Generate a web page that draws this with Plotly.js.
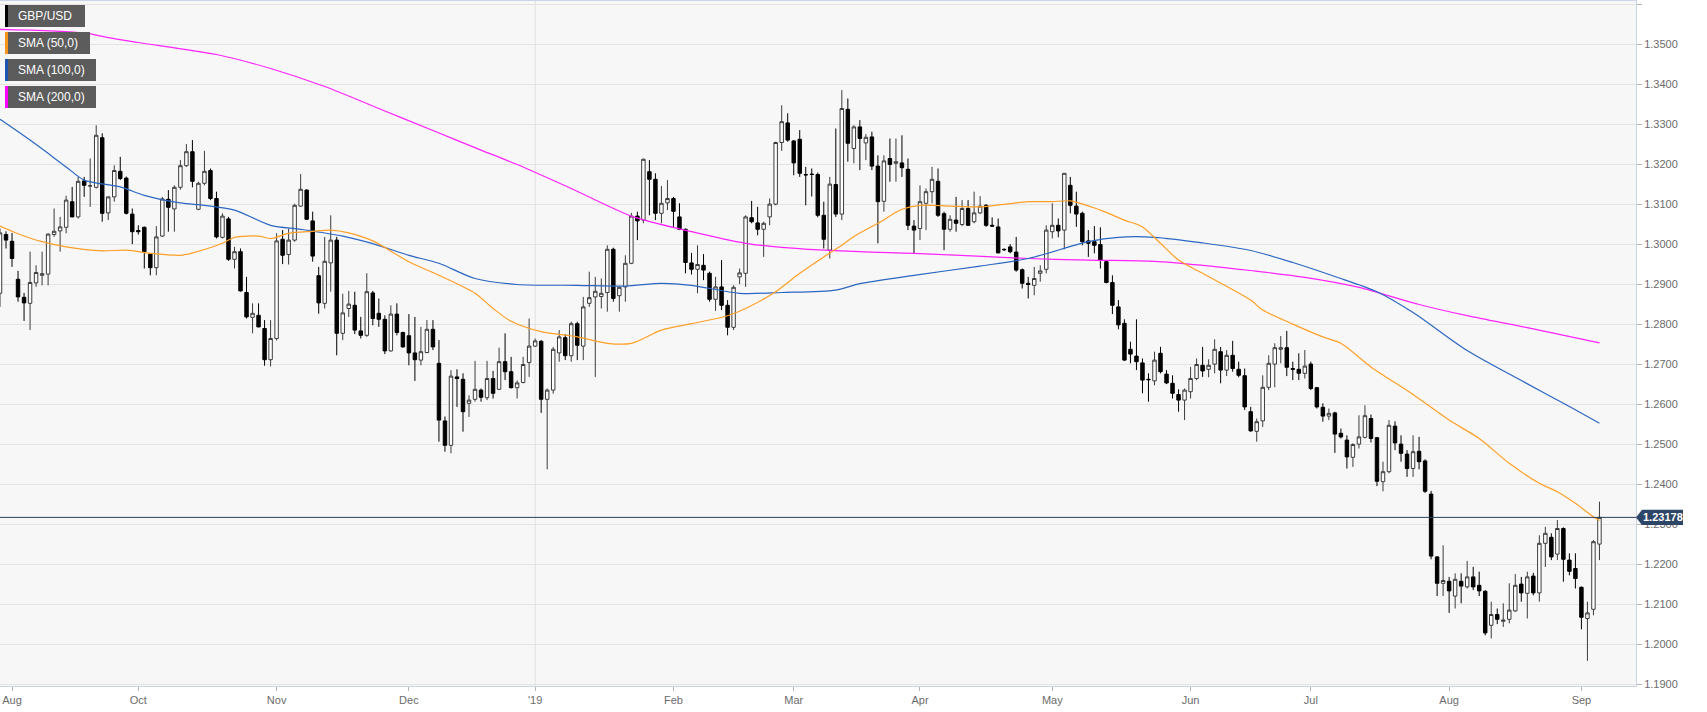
<!DOCTYPE html>
<html>
<head>
<meta charset="utf-8">
<script src="https://cdn.plot.ly/plotly-3.0.1.min.js"></script>
<style>
html,body{margin:0;padding:0;background:#ffffff;}
#chart{width:1707px;height:712px;}
</style>
</head>
<body>
<div id="chart"></div>
<script>
// ---------- DATA (GBP/USD daily, weekday sessions) ----------
const firstSession = '2018-08-29';

const open = [
1.2878,1.3025,1.3008,1.2913,1.2868,1.2853,1.2904,1.2923,1.2926,1.3025,
1.3034,1.3043,1.3107,1.3069,1.3159,1.3146,1.3143,1.3267,1.3079,1.3119,
1.3183,1.3166,1.3076,1.3035,1.3043,1.2976,1.2942,1.3021,1.3113,1.3089,
1.3143,1.3197,1.3232,1.3088,1.3153,1.3185,1.3115,1.3018,1.3064,1.2963,
1.2982,1.2880,1.2818,1.2823,1.2790,1.2712,1.2765,1.3013,1.2975,1.3011,
1.3096,1.3136,1.3059,1.2922,1.2853,1.2954,1.3011,1.2778,1.2840,1.2848,
1.2784,1.2773,1.2879,1.2828,1.2813,1.2734,1.2826,1.2780,1.2772,1.2729,
1.2711,1.2730,1.2788,1.2703,1.2559,1.2498,1.2669,1.2663,1.2603,1.2613,
1.2636,1.2617,1.2665,1.2638,1.2707,1.2682,1.2642,1.2655,1.2705,1.2746,
1.2758,1.2613,1.2636,1.2729,1.2767,1.2722,1.2802,1.2746,1.2853,1.2869,
1.2870,1.2880,1.2988,1.2872,1.2894,1.2953,1.3071,1.3061,1.3182,1.3163,
1.3078,1.3104,1.3115,1.3069,1.3038,1.2954,1.2938,1.2948,1.2928,1.2863,
1.2894,1.2848,1.2793,1.2919,1.2928,1.3067,1.3054,1.3038,1.3069,1.3101,
1.3255,1.3304,1.3259,1.3263,1.3175,1.3176,1.3175,1.3073,1.2986,1.3150,
1.3076,1.3338,1.3240,1.3294,1.3254,1.3269,1.3196,1.3108,1.3215,1.3203,
1.3204,1.3188,1.3046,1.3040,1.3103,1.3132,1.3158,1.3077,1.3038,1.3061,
1.3050,1.3090,1.3057,1.3079,1.3098,1.3048,1.3044,1.2988,1.2994,1.2981,
1.2937,1.2903,1.2898,1.2928,1.2938,1.3032,1.3048,1.3036,1.3148,1.3096,
1.3078,1.3009,1.3007,1.3000,1.2957,1.2905,1.2844,1.2803,1.2738,1.2721,
1.2704,1.2663,1.2659,1.2728,1.2676,1.2653,1.2625,1.2611,1.2632,1.2665,
1.2698,1.2688,1.2701,1.2732,1.2686,1.2723,1.2688,1.2672,1.2582,1.2533,
1.2559,1.2643,1.2701,1.2738,1.2742,1.2690,1.2688,1.2678,1.2701,1.2642,
1.2593,1.2571,1.2579,1.2528,1.2511,1.2468,1.2501,1.2518,1.2565,1.2517,
1.2407,1.2432,1.2546,1.2501,1.2476,1.2440,1.2483,1.2459,1.2376,1.2219,
1.2153,1.2158,1.2121,1.2158,1.2144,1.2169,1.2148,1.2133,1.2048,1.2075,
1.2058,1.2063,1.2084,1.2151,1.2128,1.2171,1.2129,1.2253,1.2268,1.2226,
1.2290,1.2211,1.2190,1.2143,1.2065,1.2088,1.2251
];

const high = [
1.3040,1.3033,1.3029,1.2934,1.2879,1.2982,1.2948,1.2982,1.3028,1.3090,
1.3069,1.3122,1.3144,1.3169,1.3169,1.3215,1.3298,1.3278,1.3120,1.3198,
1.3219,1.3170,1.3090,1.3048,1.3045,1.2977,1.3046,1.3119,1.3136,1.3148,
1.3211,1.3251,1.3261,1.3157,1.3234,1.3190,1.3132,1.3078,1.3069,1.2994,
1.2990,1.2919,1.2853,1.2853,1.2811,1.2811,1.3028,1.3036,1.3040,1.3102,
1.3176,1.3138,1.3082,1.2944,1.3019,1.3073,1.3019,1.2877,1.2884,1.2882,
1.2819,1.2928,1.2884,1.2865,1.2823,1.2848,1.2853,1.2782,1.2826,1.2819,
1.2794,1.2811,1.2811,1.2761,1.2570,1.2686,1.2688,1.2678,1.2623,1.2709,
1.2640,1.2709,1.2684,1.2742,1.2778,1.2719,1.2660,1.2719,1.2815,1.2765,
1.2761,1.2640,1.2744,1.2786,1.2776,1.2807,1.2807,1.2869,1.2932,1.2919,
1.2915,1.2998,1.2992,1.2895,1.2973,1.3079,1.3082,1.3215,1.3211,1.3178,
1.3146,1.3161,1.3119,1.3103,1.3040,1.2979,1.2998,1.2976,1.2932,1.2919,
1.2961,1.2861,1.2898,1.2940,1.3073,1.3109,1.3094,1.3057,1.3115,1.3257,
1.3348,1.3328,1.3261,1.3286,1.3194,1.3190,1.3180,1.3107,1.3169,1.3290,
1.3386,1.3365,1.3298,1.3311,1.3276,1.3282,1.3223,1.3223,1.3265,1.3265,
1.3273,1.3215,1.3061,1.3148,1.3140,1.3194,1.3190,1.3082,1.3073,1.3119,
1.3111,1.3111,1.3132,1.3121,1.3101,1.3068,1.3065,1.2990,1.3001,1.3019,
1.2940,1.2919,1.2944,1.2948,1.3048,1.3103,1.3065,1.3178,1.3169,1.3132,
1.3082,1.3036,1.3046,1.3043,1.2960,1.2923,1.2861,1.2813,1.2757,1.2813,
1.2715,1.2678,1.2732,1.2744,1.2686,1.2673,1.2638,1.2640,1.2694,1.2715,
1.2744,1.2713,1.2763,1.2744,1.2736,1.2759,1.2707,1.2690,1.2594,1.2565,
1.2673,1.2723,1.2753,1.2771,1.2784,1.2707,1.2728,1.2736,1.2707,1.2644,
1.2603,1.2590,1.2582,1.2540,1.2523,1.2503,1.2573,1.2598,1.2575,1.2519,
1.2457,1.2561,1.2558,1.2523,1.2486,1.2523,1.2519,1.2463,1.2384,1.2221,
1.2248,1.2169,1.2178,1.2178,1.2209,1.2194,1.2182,1.2136,1.2107,1.2090,
1.2103,1.2153,1.2176,1.2169,1.2182,1.2179,1.2273,1.2294,1.2278,1.2311,
1.2293,1.2228,1.2228,1.2145,1.2107,1.2261,1.2357
];

const low = [
1.2844,1.2990,1.2944,1.2857,1.2809,1.2786,1.2894,1.2898,1.2898,1.3019,
1.2982,1.3028,1.3068,1.3065,1.3119,1.3094,1.3140,1.3057,1.3061,1.3107,
1.3161,1.3075,1.3001,1.3025,1.2940,1.2923,1.2923,1.3019,1.3032,1.3032,
1.3137,1.3194,1.3143,1.3086,1.3148,1.3111,1.3015,1.3015,1.2959,1.2940,
1.2882,1.2815,1.2778,1.2793,1.2697,1.2695,1.2760,1.2951,1.2950,1.3007,
1.3094,1.3061,1.2957,1.2827,1.2840,1.2882,1.2723,1.2761,1.2819,1.2776,
1.2765,1.2769,1.2798,1.2794,1.2726,1.2732,1.2773,1.2742,1.2698,1.2659,
1.2698,1.2728,1.2736,1.2507,1.2482,1.2478,1.2594,1.2532,1.2569,1.2607,
1.2607,1.2611,1.2615,1.2636,1.2661,1.2640,1.2615,1.2653,1.2669,1.2744,
1.2579,1.2438,1.2627,1.2707,1.2711,1.2707,1.2711,1.2711,1.2844,1.2669,
1.2840,1.2832,1.2857,1.2832,1.2857,1.2951,1.3011,1.3053,1.3073,1.3061,
1.3053,1.3086,1.3044,1.3036,1.2928,1.2925,1.2878,1.2911,1.2857,1.2834,
1.2836,1.2773,1.2786,1.2901,1.2894,1.3053,1.3023,1.2969,1.3048,1.3098,
1.3234,1.3257,1.3173,1.3169,1.3098,1.3120,1.3068,1.2990,1.2965,1.3069,
1.3061,1.3207,1.3203,1.3186,1.3211,1.3186,1.3003,1.3082,1.3157,1.3157,
1.3169,1.3036,1.2979,1.3011,1.3036,1.3103,1.3069,1.2986,1.3032,1.3032,
1.3046,1.3046,1.3053,1.3076,1.3044,1.3044,1.2978,1.2984,1.2978,1.2932,
1.2890,1.2865,1.2873,1.2907,1.2928,1.3015,1.3018,1.2988,1.3078,1.3044,
1.2998,1.2969,1.2978,1.2940,1.2903,1.2826,1.2788,1.2709,1.2703,1.2686,
1.2628,1.2607,1.2648,1.2678,1.2651,1.2615,1.2582,1.2561,1.2615,1.2661,
1.2669,1.2668,1.2678,1.2653,1.2671,1.2682,1.2668,1.2586,1.2532,1.2507,
1.2544,1.2636,1.2643,1.2703,1.2671,1.2661,1.2661,1.2665,1.2636,1.2590,
1.2557,1.2561,1.2479,1.2515,1.2440,1.2444,1.2490,1.2515,1.2505,1.2396,
1.2383,1.2428,1.2486,1.2457,1.2419,1.2419,1.2438,1.2379,1.2213,1.2121,
1.2121,1.2079,1.2090,1.2103,1.2140,1.2136,1.2121,1.2023,1.2015,1.2051,
1.2044,1.2053,1.2082,1.2107,1.2065,1.2123,1.2107,1.2194,1.2211,1.2211,
1.2157,1.2173,1.2140,1.2038,1.1959,1.2073,1.2211
];

const close = [
1.3029,1.3011,1.2965,1.2869,1.2854,1.2905,1.2930,1.2927,1.3026,1.3033,
1.3044,1.3111,1.3069,1.3158,1.3148,1.3147,1.3273,1.3078,1.3119,1.3185,
1.3165,1.3078,1.3032,1.3032,1.2982,1.2942,1.3019,1.3114,1.3093,1.3143,
1.3197,1.3232,1.3158,1.3153,1.3183,1.3115,1.3019,1.3071,1.2963,1.2982,
1.2884,1.2819,1.2828,1.2794,1.2712,1.2765,1.3009,1.2973,1.3011,1.3098,
1.3138,1.3063,1.2971,1.2854,1.2958,1.3011,1.2778,1.2829,1.2851,1.2786,
1.2773,1.2882,1.2815,1.2813,1.2734,1.2826,1.2780,1.2744,1.2729,1.2712,
1.2732,1.2788,1.2744,1.2561,1.2498,1.2671,1.2665,1.2582,1.2611,1.2638,
1.2618,1.2665,1.2628,1.2707,1.2682,1.2642,1.2654,1.2700,1.2746,1.2759,
1.2613,1.2636,1.2738,1.2769,1.2722,1.2802,1.2748,1.2844,1.2867,1.2883,
1.2878,1.2988,1.2865,1.2893,1.2953,1.3071,1.3059,1.3213,1.3163,1.3078,
1.3103,1.3115,1.3083,1.3038,1.2955,1.2938,1.2950,1.2936,1.2863,1.2894,
1.2848,1.2793,1.2893,1.2929,1.3069,1.3057,1.3038,1.3053,1.3101,1.3255,
1.3307,1.3261,1.3204,1.3178,1.3174,1.3175,1.3073,1.3013,1.3151,1.3076,
1.3340,1.3253,1.3294,1.3265,1.3268,1.3196,1.3107,1.3209,1.3200,1.3207,
1.3192,1.3048,1.3036,1.3107,1.3132,1.3163,1.3073,1.3038,1.3063,1.3053,
1.3090,1.3048,1.3079,1.3096,1.3048,1.3046,1.2979,1.2987,1.2982,1.2936,
1.2903,1.2900,1.2915,1.2934,1.3036,1.3048,1.3034,1.3178,1.3098,1.3076,
1.3007,1.3003,1.2998,1.2961,1.2905,1.2848,1.2799,1.2711,1.2726,1.2707,
1.2661,1.2662,1.2711,1.2682,1.2654,1.2628,1.2611,1.2636,1.2665,1.2700,
1.2684,1.2698,1.2738,1.2686,1.2723,1.2690,1.2673,1.2594,1.2534,1.2557,
1.2643,1.2703,1.2742,1.2742,1.2693,1.2688,1.2678,1.2696,1.2640,1.2594,
1.2571,1.2578,1.2526,1.2519,1.2469,1.2500,1.2519,1.2572,1.2515,1.2408,
1.2432,1.2548,1.2504,1.2478,1.2440,1.2482,1.2457,1.2383,1.2221,1.2153,
1.2160,1.2134,1.2163,1.2146,1.2169,1.2144,1.2134,1.2029,1.2075,1.2063,
1.2061,1.2086,1.2148,1.2129,1.2169,1.2129,1.2253,1.2278,1.2219,1.2290,
1.2213,1.2183,1.2165,1.2068,1.2079,1.2257,1.23178
];

const sma50Dates = ['2018-08-29','2018-09-03','2018-09-07','2018-09-13','2018-09-21','2018-09-27','2018-10-03','2018-10-10','2018-10-12','2018-10-19','2018-10-23','2018-10-29','2018-10-31','2018-11-05','2018-11-09','2018-11-14','2018-11-19','2018-11-23','2018-12-03','2018-12-10','2018-12-18','2018-12-21','2018-12-26','2019-01-02','2019-01-10','2019-01-17','2019-01-23','2019-01-30','2019-02-06','2019-02-14','2019-02-19','2019-02-26','2019-03-04','2019-03-08','2019-03-13','2019-03-15','2019-03-21','2019-03-27','2019-04-01','2019-04-08','2019-04-15','2019-04-25','2019-05-01','2019-05-06','2019-05-13','2019-05-17','2019-05-22','2019-05-27','2019-05-30','2019-06-05','2019-06-17','2019-06-19','2019-06-26','2019-07-03','2019-07-08','2019-07-15','2019-07-24','2019-08-01','2019-08-08','2019-08-15','2019-08-22','2019-08-27','2019-08-30','2019-09-04','2019-09-05'];
const sma50Values = [1.3046,1.3027,1.3007,1.2994,1.2984,1.2986,1.2978,1.2973,1.2979,1.3003,1.3018,1.3021,1.3015,1.3028,1.3033,1.3036,1.3029,1.3009,1.2957,1.2923,1.2878,1.2840,1.2808,1.2782,1.2769,1.2753,1.2753,1.2786,1.2802,1.2822,1.2840,1.2882,1.2928,1.2969,1.2998,1.3020,1.3053,1.3088,1.3098,1.3096,1.3094,1.3107,1.3107,1.3109,1.3086,1.3061,1.3044,1.3003,1.2961,1.2928,1.2861,1.2836,1.2801,1.2769,1.2753,1.2694,1.2625,1.2561,1.2515,1.2453,1.2403,1.2382,1.2353,1.2319,1.2310];

const sma100Dates = ['2018-08-29','2018-09-05','2018-09-13','2018-09-18','2018-09-26','2018-10-02','2018-10-10','2018-10-16','2018-10-23','2018-10-31','2018-11-07','2018-11-16','2018-11-23','2018-12-03','2018-12-10','2018-12-18','2018-12-27','2019-01-10','2019-01-22','2019-01-30','2019-02-06','2019-02-18','2019-02-27','2019-03-12','2019-03-18','2019-03-29','2019-04-15','2019-04-25','2019-05-09','2019-05-16','2019-05-24','2019-06-05','2019-06-17','2019-06-26','2019-07-05','2019-07-16','2019-07-24','2019-08-06','2019-08-19','2019-08-29','2019-09-05'];
const sma100Values = [1.3313,1.3261,1.3194,1.3161,1.3144,1.3123,1.3104,1.3098,1.3086,1.3048,1.3038,1.3021,1.3002,1.2973,1.2953,1.2915,1.2900,1.2898,1.2896,1.2903,1.2898,1.2878,1.2880,1.2886,1.2902,1.2923,1.2946,1.2965,1.3007,1.3018,1.3018,1.3004,1.2985,1.2955,1.2920,1.2882,1.2830,1.2735,1.2660,1.2595,1.2553];

const sma200Dates = ['2018-08-29','2018-09-18','2018-09-24','2018-10-01','2018-10-18','2018-10-31','2018-11-13','2018-11-26','2018-12-07','2018-12-19','2018-12-27','2019-01-09','2019-01-23','2019-02-06','2019-02-19','2019-02-27','2019-03-18','2019-03-29','2019-04-25','2019-05-09','2019-05-24','2019-06-05','2019-06-17','2019-06-28','2019-07-11','2019-07-25','2019-08-06','2019-08-20','2019-09-05'];
const sma200Values = [1.3538,1.3529,1.3517,1.3505,1.3475,1.3440,1.3395,1.3340,1.3285,1.3236,1.3200,1.3140,1.3071,1.3032,1.3003,1.2993,1.2982,1.2978,1.2965,1.2961,1.2958,1.2948,1.2935,1.2918,1.2893,1.2850,1.2822,1.2792,1.2754];

const lastPrice = 1.23178;
const tickDates = ['2018-08-31','2018-10-01','2018-11-01','2018-12-03','2019-01-01','2019-02-01','2019-03-01','2019-04-01','2019-05-01','2019-06-03','2019-07-01','2019-08-01','2019-09-02'];
const tickLabels = ['Aug','Oct','Nov','Dec',"'19",'Feb','Mar','Apr','May','Jun','Jul','Aug','Sep'];
const legendNames = ['GBP/USD','SMA (50,0)','SMA (100,0)','SMA (200,0)'];
const legendColors = ['#000000','#f7941d','#1c55b0','#ff00ff'];

// ---------- helpers ----------
function sessions(start, n){
  const out = []; const d = new Date(start + 'T00:00:00Z');
  while(out.length < n){
    const wd = d.getUTCDay();
    if(wd !== 0 && wd !== 6) out.push(d.toISOString().slice(0,10));
    d.setUTCDate(d.getUTCDate() + 1);
  }
  return out;
}
const dates = sessions(firstSession, close.length);

const W = 1707, H = 712;
const M = {l:0, r:71, t:1, b:26};
const PW = W - M.l - M.r, PH = H - M.t - M.b;
const px = x => (x - M.l) / PW;
const py = y => 1 - (y - M.t) / PH;
const FONT = 'Liberation Sans, Arial, Helvetica, sans-serif';

const traces = [
  {
    type:'candlestick', x:dates, open:open, high:high, low:low, close:close,
    increasing:{line:{color:'#3c3c3c', width:1}, fillcolor:'#ffffff'},
    decreasing:{line:{color:'#000000', width:1}, fillcolor:'#000000'},
    whiskerwidth:0, hoverinfo:'skip', showlegend:false
  },
  {type:'scatter', mode:'lines', x:sma200Dates, y:sma200Values, line:{color:'#ff22ff', width:1.2, shape:'spline', smoothing:0.8}, hoverinfo:'skip', showlegend:false},
  {type:'scatter', mode:'lines', x:sma100Dates, y:sma100Values, line:{color:'#2a66c2', width:1.2, shape:'spline', smoothing:0.8}, hoverinfo:'skip', showlegend:false},
  {type:'scatter', mode:'lines', x:sma50Dates, y:sma50Values, line:{color:'#ff9f26', width:1.2, shape:'spline', smoothing:0.8}, hoverinfo:'skip', showlegend:false}
];

const shapes = [];
const annotations = [];

// vertical year gridline
shapes.push({type:'line', xref:'x', yref:'paper', x0:'2019-01-01', x1:'2019-01-01', y0:0, y1:1, line:{color:'#e1e1e1', width:1}, layer:'below'});
// last price line
shapes.push({type:'line', xref:'paper', yref:'y', x0:0, x1:1, y0:lastPrice, y1:lastPrice, line:{color:'#2c3e57', width:1}, layer:'above'});
// last price tag
const tagTop = lastPrice + 0.0019, tagBot = lastPrice - 0.0019;
shapes.push({type:'path', xref:'paper', yref:'y', layer:'above',
  path:`M ${px(1636)},${lastPrice} L ${px(1642)},${tagTop} L ${px(1683)},${tagTop} L ${px(1683)},${tagBot} L ${px(1642)},${tagBot} Z`,
  fillcolor:'#2d4566', line:{width:0}});
annotations.push({xref:'paper', yref:'y', x:px(1662.5), y:lastPrice, text:'<b>'+lastPrice.toFixed(5)+'</b>', showarrow:false,
  xanchor:'center', yanchor:'middle', font:{family:FONT, size:11, color:'#ffffff'}});

// legend boxes
const boxRight = [85, 90, 96, 96];
legendNames.forEach((name, i) => {
  const top = 5 + i*27, bot = top + 22;
  shapes.push({type:'rect', xref:'paper', yref:'paper', x0:px(5), x1:px(boxRight[i]), y0:py(bot), y1:py(top), fillcolor:'#5c5c5c', line:{width:0}, layer:'above'});
  shapes.push({type:'rect', xref:'paper', yref:'paper', x0:px(5), x1:px(8), y0:py(bot), y1:py(top), fillcolor:legendColors[i], line:{width:0}, layer:'above'});
  annotations.push({xref:'paper', yref:'paper', x:px(16), y:py((top+bot)/2), text:name, showarrow:false,
    xanchor:'left', yanchor:'middle', font:{family:FONT, size:12, color:'#ffffff'}});
});

const layout = {
  width:W, height:H, margin:M,
  paper_bgcolor:'#ffffff', plot_bgcolor:'#f7f7f7',
  font:{family:FONT, size:11, color:'#6b6b6b'},
  showlegend:false, hovermode:false, dragmode:false,
  boxgap:0.18,
  xaxis:{
    type:'category', range:[0, PW/6.013], autorange:false,
    rangeslider:{visible:false},
    tickmode:'array', tickvals:tickDates, ticktext:tickLabels,
    ticks:'outside', ticklen:4, tickcolor:'#b5b5b5', tickfont:{family:FONT, size:11, color:'#6b6b6b'},
    showgrid:false, zeroline:false,
    showline:true, linecolor:'#cbd3e4', linewidth:1, mirror:true
  },
  yaxis:{
    side:'right', range:[1.35 - (H - M.b - 44.5)/4000, 1.35 + (44.5 - M.t)/4000], autorange:false,
    tick0:1.19, dtick:0.01, tickformat:'.4f',
    ticks:'outside', ticklen:5, tickcolor:'#b5b5b5', tickfont:{family:FONT, size:11, color:'#6b6b6b'},
    showgrid:true, gridcolor:'#e3e3e3', gridwidth:1, zeroline:false,
    showline:true, linecolor:'#cbd3e4', linewidth:1, mirror:true
  },
  shapes:shapes, annotations:annotations
};

Plotly.newPlot('chart', traces, layout, {staticPlot:true, displayModeBar:false});
</script>
</body>
</html>
